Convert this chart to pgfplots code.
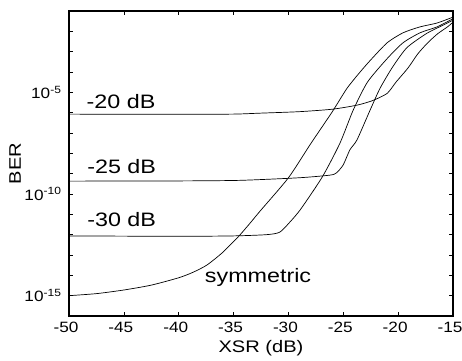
\documentclass[border=0pt]{standalone}
\usepackage{pgfplots}
\pgfplotsset{compat=1.18}
\usepackage{fontspec}
\setmainfont{Liberation Sans}[FakeStretch=1.2]
\newfontfamily\tickfont{Liberation Sans}[FakeStretch=1.15]

\begin{document}
\begin{tikzpicture}
\path[use as bounding box] (-69bp,-45bp) rectangle (393bp,316bp);
\begin{axis}[
  at={(0,0)}, anchor=south west,
  scale only axis, width=384bp, height=305bp,
  xmin=-50, xmax=-15,
  ymode=log, ymin=1e-16, ymax=1e-1,
  xtick={-50,-45,-40,-35,-30,-25,-20,-15},
  xticklabels={-50,-45,-40,-35,-30,-25,-20,-15},
  ytick={1e-15,1e-10,1e-5},
  yticklabels={10\textsuperscript{-15},10\textsuperscript{-10},10\textsuperscript{-5}},
  minor ytick={1e-16,1e-14,1e-13,1e-12,1e-11,1e-9,1e-8,1e-7,1e-6,1e-4,1e-3,1e-2,1e-1},
  tick align=inside, tick pos=both,
  major tick length=4bp, minor tick length=4bp,
  every tick/.style={black, line width=0.6bp},
  axis line style={line width=1.1bp},
  ticklabel style={font=\tickfont\fontsize{15}{17}\selectfont},
  xticklabel style={anchor=center, yshift=-11bp, xshift=-3bp},
  yticklabel style={anchor=east, xshift=-4bp},
  xlabel={XSR (dB)}, ylabel={BER},
  every axis x label/.style={at={(axis description cs:0.5,-0.105)}, anchor=center, font=\fontsize{16.8}{19}\selectfont},
  every axis y label/.style={at={(axis description cs:-0.14,0.5)}, rotate=90, anchor=center, font=\fontsize{16.8}{19}\selectfont},
]
% symmetric
\addplot[black, line width=0.7bp, smooth, tension=0.4, mark=none] coordinates {
(-50,1.0e-15) (-47.5,1.26e-15) (-45,1.9e-15) (-42.5,3.3e-15) (-40,7.6e-15)
(-38.7,1.41e-14) (-37.45,3.16e-14) (-36.05,1.26e-13) (-34.6,7.6e-13) (-33.6,3.16e-12)
(-32.6,1.41e-11) (-30,6.3e-10) (-28,2.8e-8)
(-26,1.12e-6) (-24.66,1.58e-5) (-23.5,9.5e-5) (-22.56,3.63e-4) (-21.0,2.75e-3)
(-19.55,8.5e-3) (-18,1.66e-2) (-16.45,2.57e-2) (-15,5.0e-2)
};
% -30 dB
\addplot[black, line width=0.7bp, smooth, tension=0.4, mark=none] coordinates {
(-50,8.7e-13) (-40,8.3e-13) (-35,8.7e-13) (-32,1.0e-12) (-30.8,1.32e-12)
(-29.9,3.98e-12) (-28.9,1.74e-11) (-26.9,7.1e-10) (-25.3,3.2e-8) (-24.1,1.32e-6)
(-22.8,3.16e-5) (-21.0,4.57e-4) (-19.55,2.75e-3) (-18.0,8.5e-3) (-16.45,1.66e-2)
(-15,4.17e-2)
};
% -25 dB
\addplot[black, line width=0.7bp, smooth, tension=0.4, mark=none] coordinates {
(-50,4.3e-10) (-40,4.4e-10) (-34.4,4.7e-10) (-29,6.3e-10) (-26.2,8.5e-10)
(-25.6,1.12e-9) (-25.0,2.75e-9) (-24.4,1.48e-8) (-23.75,4.6e-8) (-22.56,1.32e-6)
(-21.65,1.58e-5) (-20.5,1.78e-4) (-19.2,1.58e-3) (-17.4,7.9e-3) (-16,1.9e-2)
(-15,3.55e-2)
};
% -20 dB
\addplot[black, line width=0.7bp, smooth, tension=0.4, mark=none] coordinates {
(-50,8.5e-7) (-45,8.3e-7) (-40,8.3e-7) (-35,8.5e-7) (-32.5,9.5e-7)
(-29,1.12e-6) (-26,1.48e-6) (-23.75,2.34e-6) (-22.3,3.98e-6) (-21.0,8.9e-6)
(-20.2,3.16e-5) (-19.1,1.58e-4) (-18.2,7.9e-4) (-17.3,2.75e-3) (-16.4,7.6e-3)
(-15.5,1.66e-2) (-15,2.82e-2)
};
\node[font=\fontsize{19.5}{22}\selectfont] at (axis cs:-45.26,3.6e-6) {-20 dB};
\node[font=\fontsize{19.5}{22}\selectfont] at (axis cs:-45.2,2.2e-9) {-25 dB};
\node[font=\fontsize{19.5}{22}\selectfont] at (axis cs:-45.2,5.75e-12) {-30 dB};
\node[font=\fontsize{19.5}{22}\selectfont] at (axis cs:-32.77,8e-15) {symmetric};
\end{axis}
\end{tikzpicture}
\end{document}
